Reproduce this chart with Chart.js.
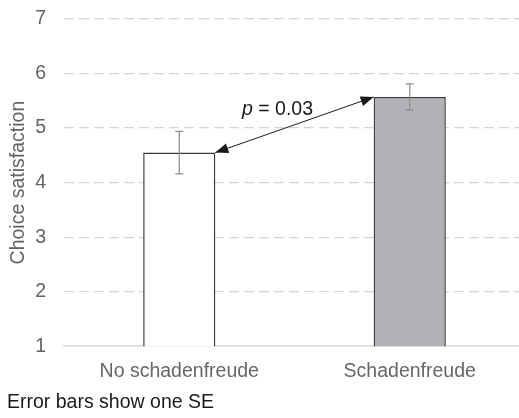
<!DOCTYPE html>
<html>
<head>
<meta charset="utf-8">
<script src="https://cdn.jsdelivr.net/npm/chart.js@4"></script>
<style>
  html, body { margin: 0; padding: 0; background: #fff; overflow: hidden; }
  #wrap { width: 525px; height: 418px; }
</style>
</head>
<body>
<div id="wrap"><canvas id="chart" width="525" height="418"></canvas></div>
<script>
// Data
const groups = ['No schadenfreude', 'Schadenfreude']
const means = [4.55, 5.57]
const errors = [0.39, 0.24]   // one SE
const barFills = ['#ffffff', '#b1b2b5']
const yTicks = [1, 2, 3, 4, 5, 6, 7]
const pLabel = ['p', ' = 0.03']
const footNote = 'Error bars show one SE'

const fontFamily = '"Liberation Sans", Arial, sans-serif'
const fontSize = 19.5

// error bars drawn on top of each bar
const errorBars = {
  id: 'errorBars',
  afterDatasetsDraw(chart) {
    const ctx = chart.ctx
    const yScale = chart.scales.y
    const meta = chart.getDatasetMeta(0)
    ctx.save()
    ctx.strokeStyle = '#8c8c8c'
    ctx.lineWidth = 1.2
    meta.data.forEach((bar, i) => {
      const top = yScale.getPixelForValue(means[i] + errors[i])
      const bottom = yScale.getPixelForValue(means[i] - errors[i])
      ctx.beginPath()
      ctx.moveTo(bar.x, top); ctx.lineTo(bar.x, bottom)
      ctx.moveTo(bar.x - 4, top); ctx.lineTo(bar.x + 4, top)
      ctx.moveTo(bar.x - 4, bottom); ctx.lineTo(bar.x + 4, bottom)
      ctx.stroke()
    })
    ctx.restore()
  }
}

// double headed arrow between the two bar tops, with the p value
function arrowHead(ctx, fromX, fromY, toX, toY) {
  const a = Math.atan2(toY - fromY, toX - fromX)
  const len = 13, half = 5
  ctx.beginPath()
  ctx.moveTo(toX, toY)
  ctx.lineTo(toX - len * Math.cos(a) + half * Math.sin(a), toY - len * Math.sin(a) - half * Math.cos(a))
  ctx.lineTo(toX - len * Math.cos(a) - half * Math.sin(a), toY - len * Math.sin(a) + half * Math.cos(a))
  ctx.closePath()
  ctx.fill()
}

const compareArrow = {
  id: 'compareArrow',
  afterDatasetsDraw(chart) {
    const ctx = chart.ctx
    const meta = chart.getDatasetMeta(0)
    const b1 = meta.data[0], b2 = meta.data[1]
    const x1 = b1.x + b1.width / 2, y1 = b1.y
    const x2 = b2.x - b2.width / 2, y2 = b2.y
    ctx.save()
    ctx.strokeStyle = '#1a1a1a'
    ctx.fillStyle = '#1a1a1a'
    ctx.lineWidth = 1
    ctx.beginPath()
    ctx.moveTo(x1, y1); ctx.lineTo(x2, y2)
    ctx.stroke()
    arrowHead(ctx, x2, y2, x1, y1)
    arrowHead(ctx, x1, y1, x2, y2)

    // label above the middle of the arrow
    const mx = (x1 + x2) / 2 - 17, my = (y1 + y2) / 2 - 10
    ctx.font = 'italic ' + fontSize + 'px ' + fontFamily
    const w1 = ctx.measureText(pLabel[0]).width
    ctx.font = fontSize + 'px ' + fontFamily
    const w2 = ctx.measureText(pLabel[1]).width
    let x = mx - (w1 + w2) / 2
    ctx.textBaseline = 'alphabetic'
    ctx.textAlign = 'left'
    ctx.font = 'italic ' + fontSize + 'px ' + fontFamily
    ctx.fillText(pLabel[0], x, my)
    ctx.font = fontSize + 'px ' + fontFamily
    ctx.fillText(pLabel[1], x + w1, my)
    ctx.restore()
  }
}

new Chart(document.getElementById('chart'), {
  type: 'bar',
  data: {
    labels: groups,
    datasets: [{
      data: means,
      backgroundColor: barFills,
      borderColor: '#3a3a3a',
      borderWidth: 1.5,
      borderSkipped: 'bottom',
      barPercentage: 1,
      categoryPercentage: 0.313
    }]
  },
  options: {
    responsive: false,
    animation: false,
    layout: { padding: { left: 7, right: 0, top: 19, bottom: 0 } },
    plugins: {
      legend: { display: false },
      tooltip: { enabled: false },
      title: {
        display: true,
        text: footNote,
        position: 'bottom',
        align: 'start',
        color: '#1a1a1a',
        font: { family: fontFamily, size: fontSize, weight: 'normal' },
        padding: { top: 1, bottom: 4 }
      }
    },
    scales: {
      x: {
        grid: { display: false },
        border: { display: true, color: '#d9d9d9', width: 1.5 },
        ticks: {
          color: '#666666',
          padding: 6,
          font: { family: fontFamily, size: fontSize }
        }
      },
      y: {
        min: 1,
        max: 7,
        afterBuildTicks: axis => { axis.ticks = yTicks.map(v => ({ value: v })) },
        afterFit: axis => {
          axis.width = 57
          axis.paddingTop = 0
          axis.paddingBottom = 0
        },
        border: { display: false, dash: [10, 5] },
        grid: {
          drawTicks: false,
          lineWidth: 1.2,
          color: ctx => ctx.tick && ctx.tick.value === 1 ? 'rgba(0,0,0,0)' : '#d4d4d4'
        },
        ticks: {
          color: '#636363',
          padding: 18,
          font: { family: fontFamily, size: fontSize }
        },
        title: {
          display: true,
          text: 'Choice satisfaction',
          color: '#636363',
          padding: { top: 0, bottom: 2 },
          font: { family: fontFamily, size: fontSize }
        }
      }
    }
  },
  plugins: [errorBars, compareArrow]
})
</script>
</body>
</html>
